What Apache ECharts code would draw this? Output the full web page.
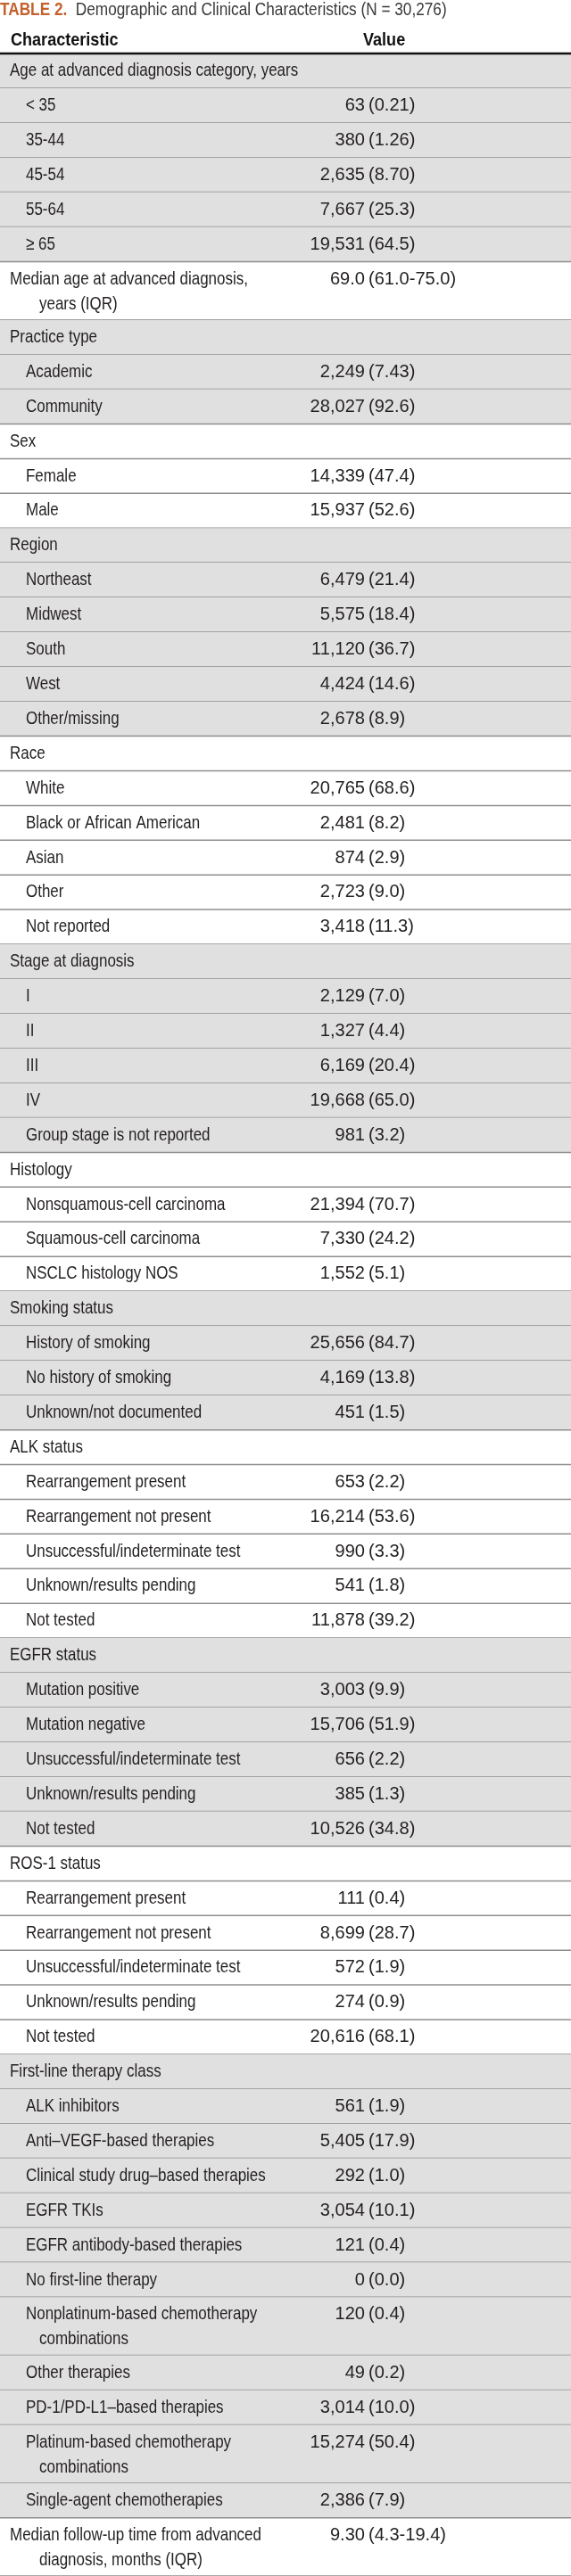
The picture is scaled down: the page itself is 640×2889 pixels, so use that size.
<!DOCTYPE html>
<html>
<head>
<meta charset="utf-8">
<script src="https://cdn.jsdelivr.net/npm/echarts@6/dist/echarts.min.js"></script>
<style>
html,body{margin:0;padding:0;background:#fff;}
#chart{width:640px;height:2889px;}
</style>
</head>
<body>
<div id="chart"></div>
<script>
// ---------- data ----------
const tableTitle = "TABLE 2.";
const tableSubtitle = "Demographic and Clinical Characteristics (N = 30,276)";
const columnHeaders = ["Characteristic", "Value"];

// level 0 = section heading, 1 = item within a section; "\n" marks the wrapped line
const rowLabels = [
  "Age at advanced diagnosis category, years", "< 35", "35-44", "45-54", "55-64", "≥ 65",
  "Median age at advanced diagnosis,\nyears (IQR)",
  "Practice type", "Academic", "Community",
  "Sex", "Female", "Male",
  "Region", "Northeast", "Midwest", "South", "West", "Other/missing",
  "Race", "White", "Black or African American", "Asian", "Other", "Not reported",
  "Stage at diagnosis", "I", "II", "III", "IV", "Group stage is not reported",
  "Histology", "Nonsquamous-cell carcinoma", "Squamous-cell carcinoma", "NSCLC histology NOS",
  "Smoking status", "History of smoking", "No history of smoking", "Unknown/not documented",
  "ALK status", "Rearrangement present", "Rearrangement not present", "Unsuccessful/indeterminate test", "Unknown/results pending", "Not tested",
  "EGFR status", "Mutation positive", "Mutation negative", "Unsuccessful/indeterminate test", "Unknown/results pending", "Not tested",
  "ROS-1 status", "Rearrangement present", "Rearrangement not present", "Unsuccessful/indeterminate test", "Unknown/results pending", "Not tested",
  "First-line therapy class", "ALK inhibitors", "Anti–VEGF-based therapies", "Clinical study drug–based therapies", "EGFR TKIs",
  "EGFR antibody-based therapies", "No first-line therapy", "Nonplatinum-based chemotherapy\ncombinations", "Other therapies",
  "PD-1/PD-L1–based therapies", "Platinum-based chemotherapy\ncombinations", "Single-agent chemotherapies",
  "Median follow-up time from advanced\ndiagnosis, months (IQR)"
];
const rowLevels = [
  0,1,1,1,1,1,
  0,
  0,1,1,
  0,1,1,
  0,1,1,1,1,1,
  0,1,1,1,1,1,
  0,1,1,1,1,1,
  0,1,1,1,
  0,1,1,1,
  0,1,1,1,1,1,
  0,1,1,1,1,1,
  0,1,1,1,1,1,
  0,1,1,1,1,1,1,1,1,1,1,1,
  0
];
const rowCounts = [
  "", "63", "380", "2,635", "7,667", "19,531",
  "69.0",
  "", "2,249", "28,027",
  "", "14,339", "15,937",
  "", "6,479", "5,575", "11,120", "4,424", "2,678",
  "", "20,765", "2,481", "874", "2,723", "3,418",
  "", "2,129", "1,327", "6,169", "19,668", "981",
  "", "21,394", "7,330", "1,552",
  "", "25,656", "4,169", "451",
  "", "653", "16,214", "990", "541", "11,878",
  "", "3,003", "15,706", "656", "385", "10,526",
  "", "111", "8,699", "572", "274", "20,616",
  "", "561", "5,405", "292", "3,054", "121", "0", "120", "49", "3,014", "15,274", "2,386",
  "9.30"
];
const rowPercents = [
  "", "(0.21)", "(1.26)", "(8.70)", "(25.3)", "(64.5)",
  "(61.0-75.0)",
  "", "(7.43)", "(92.6)",
  "", "(47.4)", "(52.6)",
  "", "(21.4)", "(18.4)", "(36.7)", "(14.6)", "(8.9)",
  "", "(68.6)", "(8.2)", "(2.9)", "(9.0)", "(11.3)",
  "", "(7.0)", "(4.4)", "(20.4)", "(65.0)", "(3.2)",
  "", "(70.7)", "(24.2)", "(5.1)",
  "", "(84.7)", "(13.8)", "(1.5)",
  "", "(2.2)", "(53.6)", "(3.3)", "(1.8)", "(39.2)",
  "", "(9.9)", "(51.9)", "(2.2)", "(1.3)", "(34.8)",
  "", "(0.4)", "(28.7)", "(1.9)", "(0.9)", "(68.1)",
  "", "(1.9)", "(17.9)", "(1.0)", "(10.1)", "(0.4)", "(0.0)", "(0.4)", "(0.2)", "(10.0)", "(50.4)", "(7.9)",
  "(4.3-19.4)"
];

// ---------- layout / style ----------
const FONT = "'Liberation Sans', Arial, sans-serif";
const FS = 20.7;
const NARROW = 0.82;          // horizontal condensing of the label face
const NUM_NARROW = 0.97;      // figures are wider in the source face
const ROW_PX = 39;            // single-line row height
const EXTRA_LINE = 0.68;      // extra row height per wrapped line, in row units
const LINE_GAP_PX = 28;       // distance between wrapped lines
const TEXT_COLOR = '#231f20';
const SHADE = '#e1e0e0';
const RULE = '#8e8e8e';

// build row spans (in row units) from the labels' line counts
let cursor = 0, section = -1;
const seriesData = rowLabels.map((lab, i) => {
  const lines = lab.split('\n').length;
  const h = 1 + (lines - 1) * EXTRA_LINE;
  if (rowLevels[i] === 0) section++;
  const item = [i, cursor, cursor + h, section];
  cursor += h;
  return item;
});
const totalUnits = cursor;

function txt(text, x, y, align, sx) {
  return {
    type: 'text', x: x, y: y, scaleX: sx, silent: true,
    style: {text: text, x: 0, y: 0, fontSize: FS, fontFamily: FONT, fill: TEXT_COLOR,
      align: align, verticalAlign: 'middle'}
  };
}

function renderItem(params, api) {
  const i = api.value(0);
  const yTop = api.coord([0, api.value(1)])[1];
  const yBot = api.coord([0, api.value(2)])[1];
  const sec = api.value(3);
  const xL = api.coord([0, 0])[0];
  const xR = api.coord([640, 0])[0];
  const children = [];
  if (sec % 2 === 0) {
    children.push({type: 'rect', shape: {x: xL, y: yTop, width: xR - xL, height: yBot - yTop},
      style: {fill: SHADE}, silent: true});
  }
  children.push({type: 'line', shape: {x1: xL, y1: yBot, x2: xR, y2: yBot},
    style: {stroke: RULE, lineWidth: 1.5}, silent: true});
  if (i === 0) {
    children.push({type: 'line', shape: {x1: xL, y1: yTop, x2: xR, y2: yTop},
      style: {stroke: '#111', lineWidth: 2.5}, silent: true});
  }
  const lines = rowLabels[i].split('\n');
  const indent = rowLevels[i] === 0 ? 11 : 29;
  const y1 = yTop + ROW_PX / 2;
  lines.forEach((t, k) => {
    children.push(txt(t, api.coord([k === 0 ? indent : 44, 0])[0], y1 + k * LINE_GAP_PX, 'left', NARROW));
  });
  if (rowCounts[i]) {
    children.push(txt(rowCounts[i], api.coord([409, 0])[0], y1, 'right', NUM_NARROW));
    children.push(txt(rowPercents[i], api.coord([413, 0])[0], y1, 'left', NUM_NARROW));
  }
  return {type: 'group', children};
}

const chart = echarts.init(document.getElementById('chart'), null, {renderer: 'canvas'});
chart.setOption({
  animation: false,
  backgroundColor: '#ffffff',
  graphic: [
    {
      type: 'text', x: 0, y: 11, scaleX: NARROW, silent: true,
      style: {
        text: '{a|' + tableTitle + '}{b|  ' + tableSubtitle + '}',
        x: 0, y: 0, verticalAlign: 'middle', align: 'left',
        rich: {
          a: {fontFamily: FONT, fontSize: 21, fontWeight: 'bold', fill: '#c4612c', color: '#c4612c'},
          b: {fontFamily: FONT, fontSize: 21, fontWeight: 'normal', fill: '#3a3a3a', color: '#3a3a3a'}
        }
      }
    },
    {
      type: 'text', x: 12, y: 45, scaleX: 0.86, silent: true,
      style: {text: columnHeaders[0], x: 0, y: 0, fontFamily: FONT, fontSize: 21, fontWeight: 'bold',
        fill: '#111', align: 'left', verticalAlign: 'middle'}
    },
    {
      type: 'text', x: 407, y: 45, scaleX: 0.86, silent: true,
      style: {text: columnHeaders[1], x: 0, y: 0, fontFamily: FONT, fontSize: 21, fontWeight: 'bold',
        fill: '#111', align: 'left', verticalAlign: 'middle'}
    }
  ],
  grid: {left: 0, right: 0, top: 60, height: totalUnits * ROW_PX, containLabel: false},
  xAxis: {type: 'value', min: 0, max: 640, show: false},
  yAxis: {type: 'value', min: 0, max: totalUnits, inverse: true, show: false},
  series: [{
    type: 'custom',
    renderItem: renderItem,
    clip: false,
    data: seriesData,
    encode: {x: -1, y: [1, 2]}
  }]
});
</script>
</body>
</html>
